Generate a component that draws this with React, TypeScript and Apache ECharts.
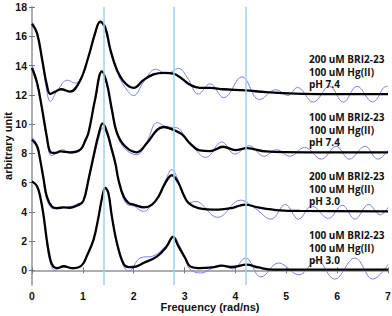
import React, { useEffect, useRef } from "react";
import * as echarts from "echarts";

// x (rad/ns), y (arbitrary unit)
const fitA: number[][] = [[0,16.85],[0.1,16.2],[0.2,14.4],[0.29,12.7],[0.36,12.06],[0.45,12.2],[0.57,12.38],[0.75,12.22],[0.95,13.0],[1.11,14.6],[1.24,16.2],[1.34,17.0],[1.44,16.6],[1.54,15.1],[1.67,13.7],[1.83,12.8],[2.0,12.47],[2.19,13.0],[2.39,13.4],[2.6,13.5],[2.78,13.45],[2.95,13.1],[3.1,12.7],[3.3,12.47],[3.5,12.47],[3.76,12.38],[4.2,12.3],[4.6,12.18],[5.3,12.06],[6.0,12.05],[7,12.05]];
const dataA: number[][] = [[0,17.0],[0.1,16.3],[0.2,14.3],[0.29,12.3],[0.36,11.55],[0.5,12.3],[0.7,13.0],[0.85,12.8],[0.95,13.0],[1.11,14.6],[1.24,16.1],[1.34,16.9],[1.44,16.5],[1.54,15.0],[1.67,13.6],[1.83,12.5],[2.0,11.95],[2.2,12.9],[2.43,13.75],[2.65,13.45],[2.88,13.8],[3.05,13.2],[3.27,12.05],[3.5,12.75],[3.77,11.8],[4.13,13.23],[4.47,11.67],[4.8,12.35],[5.03,11.95],[5.22,12.5],[5.53,11.5],[5.85,12.58],[6.12,11.5],[6.39,12.58],[6.7,11.5],[6.97,12.58],[7,12.55]];

const fitB: number[][] = [[0,13.83],[0.1,12.8],[0.2,11.0],[0.29,9.16],[0.36,8.1],[0.45,8.02],[0.56,8.13],[0.75,8.07],[0.95,8.25],[1.05,8.9],[1.11,9.4],[1.24,11.67],[1.375,13.6],[1.47,12.8],[1.57,11.0],[1.67,9.4],[1.83,8.48],[2.06,8.07],[2.26,8.7],[2.46,9.6],[2.59,9.8],[2.78,9.6],[2.95,9.3],[3.1,8.7],[3.3,8.2],[3.5,8.15],[3.76,8.45],[4.0,8.22],[4.23,8.35],[4.6,8.13],[5.4,8.07],[7,8.07]];
const dataB: number[][] = [[0,14.0],[0.1,12.9],[0.2,11.0],[0.29,9.0],[0.39,7.84],[0.6,8.25],[0.75,8.0],[0.95,8.2],[1.05,8.9],[1.11,9.4],[1.24,11.6],[1.375,13.55],[1.47,12.7],[1.57,10.9],[1.67,9.3],[1.83,8.3],[2.06,7.9],[2.26,8.8],[2.46,10.1],[2.65,9.8],[2.85,9.75],[3.0,9.2],[3.2,8.3],[3.42,7.72],[3.73,8.78],[3.99,7.95],[4.27,8.52],[4.56,7.8],[4.81,8.25],[5.07,7.8],[5.36,8.4],[5.69,7.6],[5.98,8.48],[6.24,7.6],[6.55,8.48],[6.8,7.6],[7.0,8.2]];

const fitC: number[][] = [[0,8.93],[0.1,8.48],[0.16,7.57],[0.23,6.2],[0.29,5.06],[0.39,4.37],[0.49,4.26],[0.62,4.3],[0.75,4.28],[0.9,4.45],[1.01,4.75],[1.11,6.2],[1.21,7.8],[1.31,9.3],[1.39,10.05],[1.48,9.4],[1.55,8.5],[1.64,7.3],[1.7,6.2],[1.8,5.06],[1.9,4.6],[2.0,4.5],[2.2,4.3],[2.36,4.49],[2.49,5.06],[2.62,5.97],[2.75,6.5],[2.88,5.97],[2.98,5.17],[3.08,4.6],[3.27,4.26],[3.67,4.15],[3.93,4.26],[4.19,4.5],[4.45,4.3],[4.88,4.1],[5.27,4.06],[7,4.03]];
const dataC: number[][] = [[0,9.1],[0.1,8.6],[0.16,7.6],[0.23,6.1],[0.29,4.9],[0.39,4.25],[0.49,4.2],[0.62,4.3],[0.75,4.35],[0.9,4.55],[1.01,4.75],[1.11,6.1],[1.21,7.6],[1.31,9.0],[1.39,9.73],[1.48,9.2],[1.55,8.4],[1.64,7.2],[1.7,6.1],[1.8,4.9],[1.9,4.45],[2.0,4.4],[2.19,4.03],[2.36,4.5],[2.49,5.1],[2.62,6.1],[2.75,6.88],[2.88,6.1],[2.98,5.1],[3.08,4.6],[3.21,4.72],[3.65,3.62],[4.1,4.8],[4.4,4.2],[4.7,3.5],[4.98,4.5],[5.24,3.5],[5.5,4.4],[5.83,3.55],[6.1,4.45],[6.35,3.5],[6.62,4.5],[6.85,3.8],[7.0,4.3]];

const fitD: number[][] = [[0,6.08],[0.1,5.74],[0.17,4.9],[0.23,3.69],[0.29,2.1],[0.36,0.73],[0.42,0.27],[0.5,0.15],[0.62,0.28],[0.8,0.15],[0.98,0.35],[1.08,1.0],[1.21,2.1],[1.31,3.69],[1.38,5.0],[1.44,5.63],[1.5,5.3],[1.57,3.69],[1.67,1.87],[1.8,0.45],[1.9,0.22],[2.0,0.23],[2.19,0.5],[2.46,0.96],[2.65,1.64],[2.77,2.28],[2.88,1.64],[3.01,0.85],[3.11,0.27],[3.27,0.16],[3.54,0.2],[3.73,0.32],[3.93,0.23],[4.22,0.39],[4.45,0.2],[4.74,0.05],[7,0.05]];
const dataD: number[][] = [[0,6.1],[0.1,5.74],[0.17,4.8],[0.23,3.5],[0.29,1.9],[0.36,0.5],[0.45,0.0],[0.6,0.3],[0.8,0.1],[0.98,0.35],[1.08,1.0],[1.21,2.1],[1.31,3.69],[1.38,5.0],[1.44,5.6],[1.5,5.3],[1.57,3.69],[1.67,1.8],[1.8,0.3],[1.9,-0.05],[2.13,0.85],[2.4,1.0],[2.65,1.75],[2.78,2.35],[2.9,1.7],[3.01,0.85],[3.1,0.1],[3.31,-0.18],[3.7,0.35],[3.95,0.1],[4.2,0.85],[4.5,-0.45],[4.85,0.5],[5.25,-0.3],[5.6,0.7],[5.95,-0.6],[6.35,0.85],[6.7,-0.6],[7.0,0.4]];

const peakLines: number[] = [1.42, 2.78, 4.2];
const yTicks: number[] = [0, 2, 4, 6, 8, 10, 12, 14, 16, 18];
const xTicks: number[] = [0, 1, 2, 3, 4, 5, 6, 7];
const annotations: string[][] = [
  ["200 uM BRI2-23", "100 uM Hg(II)", "pH 7.4"],
  ["100 uM BRI2-23", "100 uM Hg(II)", "pH 7.4"],
  ["200 uM BRI2-23", "100 uM Hg(II)", "pH 3.0"],
  ["100 uM BRI2-23", "100 uM Hg(II)", "pH 3.0"],
];
const annotationTop: number[] = [53, 111, 170, 229];

const FONT = "'Liberation Sans', Arial, sans-serif";
const NOTE_FONT = "'Open Sans', 'Liberation Sans', sans-serif";
const FRAME = "#a8a8a8";
const BLUE = "#7c80f0";

export default function App() {
  const ref = useRef<HTMLDivElement>(null);
  useEffect(() => {
    if (!ref.current) return;
    const chart = echarts.init(ref.current, undefined, { renderer: "svg" });
    const blue = (d: number[][]) => ({
      type: "line", data: d, smooth: 0.4, symbol: "none", xAxisIndex: 0, yAxisIndex: 0,
      lineStyle: { color: BLUE, width: 1 }, z: 3,
    });
    const black = (d: number[][]) => ({
      type: "line", data: d, smooth: 0.4, symbol: "none", xAxisIndex: 0, yAxisIndex: 0,
      lineStyle: { color: "#000", width: 2.3 }, z: 4,
    });
    const option: any = {
      animation: false,
      grid: { left: 32, right: 4, top: 7, bottom: 31, containLabel: false, outerBoundsMode: "none" },
      xAxis: [
        {
          type: "value", min: 0, max: 7, interval: 1, position: "bottom",
          name: "Frequency (rad/ns)", nameLocation: "middle", nameGap: 16, nameMoveOverlap: false,
          nameTextStyle: { fontFamily: FONT, fontWeight: "bold", fontSize: 11, color: "#111", verticalAlign: "top" },
          axisLine: { show: true, lineStyle: { color: FRAME, width: 1.5 } },
          axisTick: { show: true, inside: true, length: 3, lineStyle: { color: "#777" } },
          axisLabel: { fontFamily: FONT, fontWeight: "bold", fontSize: 10.5, color: "#111", margin: 5,
            formatter: (v: number) => (xTicks.includes(v) ? String(v) : "") },
          splitLine: { show: false },
        },
        {
          type: "value", min: 0, max: 7, interval: 1, position: "top",
          axisLine: { show: true, lineStyle: { color: FRAME, width: 1.5 } },
          axisTick: { show: true, inside: true, length: 3, lineStyle: { color: "#777" } },
          axisLabel: { show: false }, splitLine: { show: false },
        },
      ],
      yAxis: [
        {
          type: "value", min: -1, max: 18, position: "left",
          name: "arbitrary unit", nameLocation: "middle", nameGap: 24, nameRotate: 90, nameMoveOverlap: false,
          nameTextStyle: { fontFamily: FONT, fontWeight: "bold", fontSize: 11, color: "#111", verticalAlign: "middle" },
          axisLine: { show: true, lineStyle: { color: FRAME, width: 1.5 } },
          axisTick: { show: true, inside: true, length: 3, customValues: yTicks, lineStyle: { color: "#777" } },
          axisLabel: { fontFamily: FONT, fontWeight: "bold", fontSize: 10.5, color: "#111", margin: 5, customValues: yTicks },
          splitLine: { show: false },
        },
        {
          type: "value", min: -1, max: 18, position: "right",
          axisLine: { show: true, lineStyle: { color: FRAME, width: 1.5 } },
          axisTick: { show: true, inside: true, length: 3, customValues: yTicks, lineStyle: { color: "#777" } },
          axisLabel: { show: false }, splitLine: { show: false },
        },
      ],
      series: [
        {
          type: "line", data: [], xAxisIndex: 0, yAxisIndex: 0, z: 2,
          markLine: {
            silent: true, symbol: "none", label: { show: false },
            lineStyle: { color: "#9ed3ee", width: 1.5, type: "solid" },
            data: peakLines.map((x) => ({ xAxis: x })),
          },
        },
        blue(dataA), blue(dataB), blue(dataC), blue(dataD),
        black(fitA), black(fitB), black(fitC), black(fitD),
      ],
      graphic: annotations.map((lines, i) => ({
        type: "text", left: 309, top: annotationTop[i], z: 10,
        style: { text: lines.join("\n"), fontFamily: NOTE_FONT, fontWeight: "bold", fontSize: 10, lineHeight: 12.5, fill: "#111" },
      })),
    };
    chart.setOption(option);
    return () => chart.dispose();
  }, []);
  return <div ref={ref} style={{ position: "absolute", left: 0, top: 0, width: 392, height: 316 }} />;
}
